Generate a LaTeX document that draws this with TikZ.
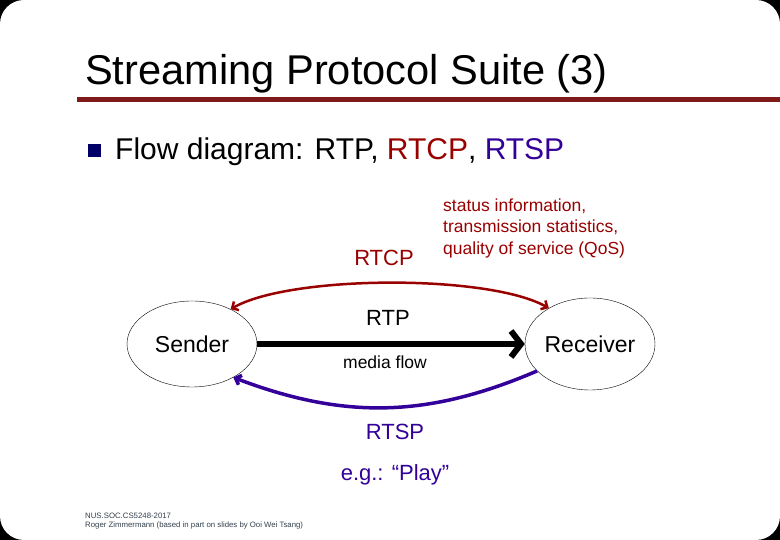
\documentclass[tikz,border=0pt]{standalone}
\usepackage{fontspec}
\setmainfont{Liberation Sans}
\usepackage{tikz}
\usetikzlibrary{shapes.geometric,arrows.meta,positioning}
\definecolor{slidered}{HTML}{990000}
\definecolor{slideblue}{HTML}{330099}
\definecolor{rulered}{HTML}{7F1A1A}
\definecolor{bulletnavy}{HTML}{000066}
\definecolor{footgray}{HTML}{34404C}

\begin{document}
\begin{tikzpicture}[x=1pt, y=1pt,
    endpoint/.style={draw, ellipse, thin, inner sep=0pt, font=\fontsize{23}{27}\selectfont},
    flowtext/.style={inner sep=1pt, font=\fontsize{22}{26}\selectfont},
    smalltext/.style={inner sep=0pt, font=\fontsize{17.5}{21.5}\selectfont}
]
    \useasboundingbox (0,0) rectangle (780,540);
    % Slide background
    \fill[black] (0,0) rectangle (780,540);
    \fill[white, rounded corners=24pt] (0,0) rectangle (780,540);

    % Title and rule
    \node[anchor=base west, inner sep=0pt, font=\fontsize{41.6}{48}\selectfont] (title) at (85,455) {Streaming Protocol Suite (3)};
    \fill[rulered] (77,437.5) rectangle (780,442.5);

    % Bullet line
    \node[fill=bulletnavy, minimum size=13pt, inner sep=0pt] (bullet) at (94,389) {};
    \node[anchor=base west, inner sep=0pt, font=\fontsize{30}{36}\selectfont] (bulletline) at (115,380) {Flow diagram: RTP, \textcolor{slidered}{RTCP}, \textcolor{slideblue}{RTSP}};

    % End points
    \node[endpoint, minimum width=130pt, minimum height=86pt] (sender) at (192,196) {Sender};
    \node[endpoint, minimum width=130pt, minimum height=92pt] (receiver) at (590,196) {Receiver};

    % RTP media flow
    \draw[line width=6pt, -{Straight Barb[length=10pt, width=26pt]}] (sender) -- (receiver);
    \node[flowtext] (rtp) at (388,222) {RTP};
    \node[smalltext] (mediaflow) at (385,178) {media flow};

    % RTCP feedback
    \draw[slidered, line width=2.5pt, {Straight Barb[length=5pt, width=10pt]}-{Straight Barb[length=5pt, width=10pt]}] (sender.42) to[bend left=30, looseness=0.55] (receiver.139);
    \node[flowtext, text=slidered] (rtcp) at (384,282) {RTCP};
    \node[smalltext, text=slidered, anchor=west, align=left] (rtcpinfo) at (443,312) {status information,\\transmission statistics,\\quality of service (QoS)};

    % RTSP control
    \draw[slideblue, line width=3.5pt, -{Straight Barb[length=5pt, width=10pt]}] (receiver.207) to[bend left=22] (sender.321);
    \node[flowtext, text=slideblue] (rtsp) at (395,108) {RTSP};
    \node[flowtext, text=slideblue] (rtspexample) at (395,65) {e.g.: “Play”};

    % Footer
    \node[anchor=west, align=left, inner sep=0pt, text=footgray, font=\fontsize{7.8}{9}\selectfont] (footer) at (85,18.5) {NUS.SOC.CS5248-2017\\Roger Zimmermann (based in part on slides by Ooi Wei Tsang)};
\end{tikzpicture}
\end{document}
